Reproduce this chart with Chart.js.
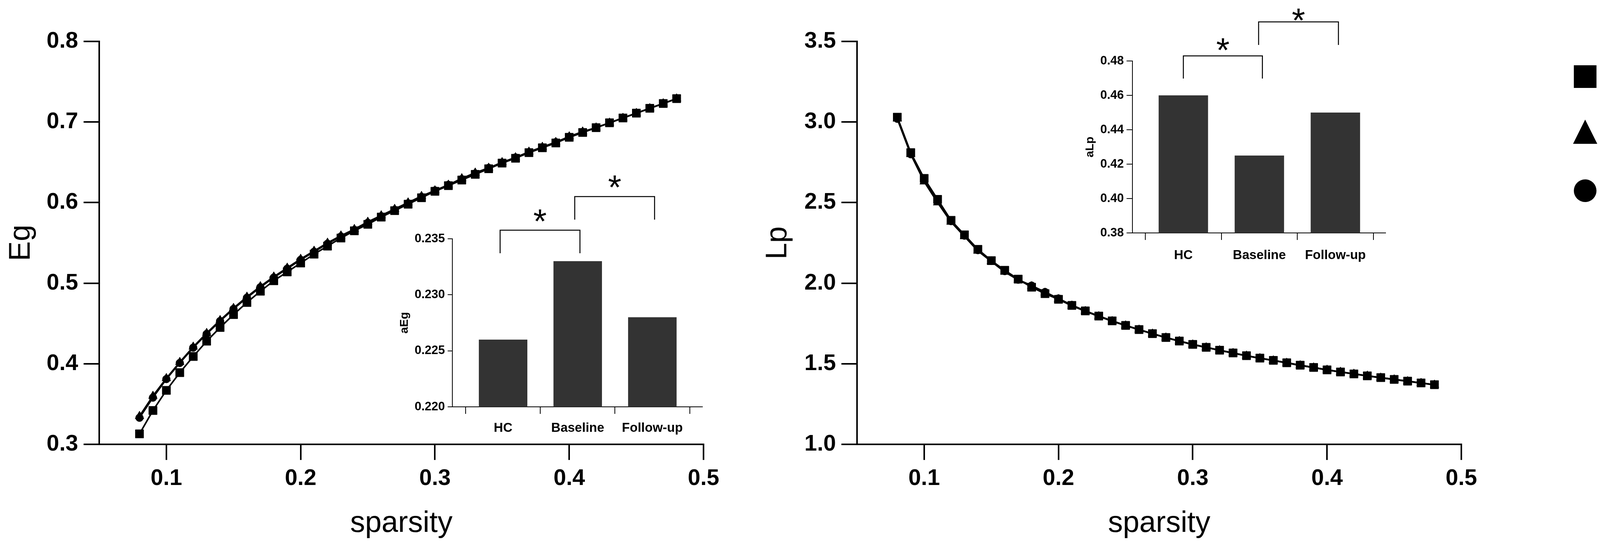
<!DOCTYPE html>
<html>
<head>
<meta charset="utf-8">
<script src="https://cdn.jsdelivr.net/npm/chart.js@4.4.0/dist/chart.umd.min.js"></script>
<style>
  html, body { margin: 0; padding: 0; background: #fff; }
  body { width: 4559px; height: 1392px; position: relative; overflow: hidden; font-family: "Liberation Sans", Arial, sans-serif; }
  canvas { position: absolute; }
  .leg-row { position: absolute; left: 4026px; height: 100px; display: flex; align-items: center; font-size: 86px; line-height: 1; color: #000; }
  .leg-mark { width: 64px; height: 64px; display: flex; align-items: center; justify-content: center; margin-right: 88px; }
  .sq { width: 58px; height: 58px; background: #000; }
  .tri { width: 0; height: 0; border-left: 31px solid transparent; border-right: 31px solid transparent; border-bottom: 62px solid #000; }
  .dot { width: 58px; height: 58px; border-radius: 50%; background: #000; }
</style>
</head>
<body>
<canvas id="egChart" width="1900" height="1392" style="left:0;top:0"></canvas>
<canvas id="lpChart" width="1900" height="1392" style="left:1940px;top:0"></canvas>
<canvas id="egBar" width="840" height="710" style="left:990px;top:420px"></canvas>
<canvas id="lpBar" width="840" height="690" style="left:2740px;top:0"></canvas>

<div class="leg-row" style="top:146px"><div class="leg-mark"><div class="sq"></div></div><span>HC</span></div>
<div class="leg-row" style="top:287px"><div class="leg-mark"><div class="tri"></div></div><span>Baseline</span></div>
<div class="leg-row" style="top:438px"><div class="leg-mark"><div class="dot"></div></div><span>Follow-up</span></div>

<script>
// values
const sparsity = [0.08, 0.09, 0.10, 0.11, 0.12, 0.13, 0.14, 0.15, 0.16, 0.17, 0.18, 0.19, 0.20, 0.21,
  0.22, 0.23, 0.24, 0.25, 0.26, 0.27, 0.28, 0.29, 0.30, 0.31, 0.32, 0.33, 0.34, 0.35, 0.36, 0.37,
  0.38, 0.39, 0.40, 0.41, 0.42, 0.43, 0.44, 0.45, 0.46, 0.47, 0.48];

const egHC = [0.313, 0.342, 0.367, 0.389, 0.409, 0.428, 0.445, 0.461, 0.476, 0.490, 0.503, 0.514, 0.525, 0.536,
  0.546, 0.556, 0.565, 0.573, 0.582, 0.590, 0.598, 0.606, 0.614, 0.621, 0.628, 0.635, 0.642, 0.649, 0.655, 0.662,
  0.668, 0.674, 0.681, 0.687, 0.693, 0.699, 0.705, 0.711, 0.717, 0.723, 0.729];
const egBaseline = [0.335, 0.360, 0.382, 0.402, 0.421, 0.438, 0.454, 0.469, 0.483, 0.496, 0.508, 0.519, 0.530, 0.540,
  0.550, 0.559, 0.567, 0.576, 0.584, 0.592, 0.600, 0.608, 0.615, 0.622, 0.630, 0.637, 0.643, 0.650, 0.656, 0.663,
  0.669, 0.675, 0.682, 0.688, 0.693, 0.699, 0.705, 0.711, 0.717, 0.723, 0.729];
const egFollowUp = [0.333, 0.358, 0.381, 0.401, 0.420, 0.437, 0.453, 0.468, 0.482, 0.495, 0.507, 0.518, 0.529, 0.539,
  0.549, 0.558, 0.566, 0.575, 0.583, 0.591, 0.599, 0.607, 0.615, 0.622, 0.629, 0.636, 0.643, 0.649, 0.656, 0.662,
  0.668, 0.675, 0.681, 0.687, 0.693, 0.699, 0.705, 0.711, 0.717, 0.723, 0.729];

const lpHC = [3.03, 2.81, 2.65, 2.52, 2.39, 2.30, 2.21, 2.14, 2.08, 2.025, 1.975, 1.935, 1.900, 1.862,
  1.828, 1.796, 1.766, 1.738, 1.712, 1.687, 1.663, 1.641, 1.620, 1.602, 1.584, 1.567, 1.550, 1.535, 1.521, 1.506,
  1.491, 1.477, 1.462, 1.449, 1.437, 1.425, 1.414, 1.403, 1.392, 1.381, 1.370];
const lpBaseline = [3.02, 2.80, 2.63, 2.50, 2.38, 2.29, 2.20, 2.135, 2.07, 2.02, 1.98, 1.94, 1.900, 1.860,
  1.826, 1.794, 1.764, 1.737, 1.711, 1.686, 1.662, 1.640, 1.619, 1.601, 1.583, 1.566, 1.549, 1.534, 1.520, 1.505,
  1.490, 1.476, 1.462, 1.449, 1.437, 1.425, 1.413, 1.402, 1.391, 1.380, 1.369];
const lpFollowUp = [3.02, 2.80, 2.64, 2.51, 2.385, 2.295, 2.205, 2.138, 2.075, 2.022, 1.985, 1.945, 1.905, 1.864,
  1.828, 1.796, 1.766, 1.738, 1.712, 1.687, 1.663, 1.641, 1.620, 1.602, 1.584, 1.567, 1.550, 1.535, 1.521, 1.506,
  1.491, 1.477, 1.462, 1.449, 1.437, 1.425, 1.414, 1.403, 1.392, 1.381, 1.370];

const groups = ['HC', 'Baseline', 'Follow-up'];
const aEg = [0.226, 0.233, 0.228];
const aLp = [0.460, 0.425, 0.450];

const sparsityTicks = [0.1, 0.2, 0.3, 0.4, 0.5];
const sparsityLabels = ['0.1', '0.2', '0.3', '0.4', '0.5'];
const egTicks = [0.3, 0.4, 0.5, 0.6, 0.7, 0.8];
const egLabels = ['0.3', '0.4', '0.5', '0.6', '0.7', '0.8'];
const lpTicks = [1.0, 1.5, 2.0, 2.5, 3.0, 3.5];
const lpLabels = ['1.0', '1.5', '2.0', '2.5', '3.0', '3.5'];
const aEgTicks = [0.220, 0.225, 0.230, 0.235];
const aEgLabels = ['0.220', '0.225', '0.230', '0.235'];
const aLpTicks = [0.38, 0.40, 0.42, 0.44, 0.46, 0.48];
const aLpLabels = ['0.38', '0.40', '0.42', '0.44', '0.46', '0.48'];

// significance brackets, in data units of each inset
const egBrackets = [
  { from: -0.04, to: 1.03, top: 0.23577, leg: 0.23371, star: 0.23706 },
  { from: 0.96, to: 2.03, top: 0.23877, leg: 0.23671, star: 0.2401 },
];
const lpBrackets = [
  { from: 0.0, to: 1.04, top: 0.48295, leg: 0.46977, star: 0.48955 },
  { from: 0.99, to: 2.04, top: 0.50273, leg: 0.48932, star: 0.50682 },
];

const mainTickFont = { family: '"Liberation Sans Narrow", "Liberation Sans", Arial, sans-serif', size: 58, weight: 'bold' };
const mainTitleFont = { family: '"Liberation Sans", Arial, sans-serif', size: 76, weight: 'normal' };
const insetTickFont = { family: '"Liberation Sans", Arial, sans-serif', size: 31, weight: 'bold' };
const insetCatFont = { family: '"Liberation Sans", Arial, sans-serif', size: 33, weight: 'bold' };
const insetTitleFont = { family: '"Liberation Sans", Arial, sans-serif', size: 30, weight: 'bold' };

function fixedTicks(values) {
  return scale => { scale.ticks = values.map(v => ({ value: v })); };
}

function series(label, ys, style, radius) {
  return {
    label: label,
    data: sparsity.map((x, i) => ({ x: x, y: ys[i] })),
    borderColor: '#000',
    borderWidth: 4,
    backgroundColor: '#000',
    pointStyle: style,
    pointRadius: radius,
    pointBackgroundColor: '#000',
    pointBorderColor: '#000',
    pointBorderWidth: 1,
    tension: 0,
  };
}

function lineConfig(datasets, yMin, yMax, yTicks, yLabels, yTitle, yTitlePad) {
  return {
    type: 'line',
    data: { datasets: datasets },
    options: {
      responsive: false,
      devicePixelRatio: 1,
      animation: false,
      layout: { padding: { top: 106, right: 99, left: 0, bottom: 0 } },
      plugins: { legend: { display: false }, tooltip: { enabled: false } },
      scales: {
        x: {
          type: 'linear', min: 0.05, max: 0.5,
          afterBuildTicks: fixedTicks(sparsityTicks),
          afterFit: s => { s.height = 255; },
          border: { display: true, color: '#000', width: 4 },
          grid: { display: true, drawOnChartArea: false, drawTicks: true, tickLength: 40, lineWidth: 4, tickWidth: 4, tickColor: '#000' },
          ticks: { color: '#000', font: mainTickFont, padding: 13, maxRotation: 0, autoSkip: false,
            callback: (v, i) => sparsityLabels[i] },
          title: { display: true, text: 'sparsity', color: '#000', font: mainTitleFont, padding: { top: 0, bottom: 6 } },
        },
        y: {
          type: 'linear', min: yMin, max: yMax,
          afterBuildTicks: fixedTicks(yTicks),
          afterFit: s => { s.width = 254; },
          border: { display: true, color: '#000', width: 4 },
          grid: { display: true, drawOnChartArea: false, drawTicks: true, tickLength: 40, lineWidth: 4, tickWidth: 4, tickColor: '#000' },
          ticks: { color: '#000', font: mainTickFont, padding: 14, autoSkip: false,
            callback: (v, i) => yLabels[i] },
          title: { display: true, text: yTitle, color: '#000', font: mainTitleFont, padding: { top: yTitlePad, bottom: 0 } },
        },
      },
    },
  };
}

const bracketPlugin = {
  id: 'brackets',
  afterDatasetsDraw(chart, args, opts) {
    const { ctx } = chart;
    const xs = chart.scales.x, ys = chart.scales.y;
    ctx.save();
    ctx.strokeStyle = '#000';
    ctx.lineWidth = 2.5;
    ctx.fillStyle = '#000';
    ctx.font = 'normal 88px "Liberation Sans", Arial, sans-serif';
    ctx.textAlign = 'center';
    ctx.textBaseline = 'alphabetic';
    const m = ctx.measureText('*');
    const mid = (m.actualBoundingBoxAscent - m.actualBoundingBoxDescent) / 2;
    (opts.items || []).forEach(b => {
      const x1 = xs.getPixelForValue(b.from), x2 = xs.getPixelForValue(b.to);
      const yt = ys.getPixelForValue(b.top), yl = ys.getPixelForValue(b.leg);
      ctx.beginPath();
      ctx.moveTo(x1, yl); ctx.lineTo(x1, yt); ctx.lineTo(x2, yt); ctx.lineTo(x2, yl);
      ctx.stroke();
      ctx.fillText('*', (x1 + x2) / 2, ys.getPixelForValue(b.star) + mid);
    });
    ctx.restore();
  },
};

function barConfig(values, xMin, xMax, yMin, yMax, yTicks, yLabels, yTitle, dims, brackets) {
  return {
    type: 'bar',
    data: {
      datasets: [{
        data: values.map((v, i) => ({ x: i, y: v })),
        backgroundColor: '#333333',
        borderWidth: 0,
        barPercentage: 0.65,
        categoryPercentage: 1.0,
      }],
    },
    plugins: [bracketPlugin],
    options: {
      responsive: false,
      devicePixelRatio: 1,
      animation: false,
      layout: { padding: { top: dims.top, right: dims.right, left: 0, bottom: 0 } },
      plugins: { legend: { display: false }, tooltip: { enabled: false }, brackets: { items: brackets } },
      scales: {
        x: {
          type: 'linear', min: xMin, max: xMax, offset: false,
          afterBuildTicks: fixedTicks([0, 1, 2]),
          afterFit: s => { s.height = dims.xHeight; },
          border: { display: true, color: '#000', width: 2 },
          grid: { display: true, drawOnChartArea: false, drawTicks: true, tickLength: 18, lineWidth: 2, tickWidth: 2, tickColor: '#000' },
          ticks: { color: '#000', font: insetCatFont, padding: dims.xPad, maxRotation: 0, autoSkip: false,
            callback: (v, i) => groups[i] },
        },
        y: {
          type: 'linear', min: yMin, max: yMax,
          afterBuildTicks: fixedTicks(yTicks),
          afterFit: s => { s.width = dims.yWidth; },
          border: { display: true, color: '#000', width: 2 },
          grid: { display: true, drawOnChartArea: false, drawTicks: true, tickLength: dims.tick, lineWidth: 2, tickWidth: 2, tickColor: '#000' },
          ticks: { color: '#000', font: insetTickFont, padding: 7, autoSkip: false,
            callback: (v, i) => yLabels[i] },
          title: { display: true, text: yTitle, color: '#000', font: insetTitleFont, padding: { top: dims.titlePad, bottom: 0 } },
        },
      },
    },
  };
}

new Chart(document.getElementById('egChart'), lineConfig([
  series('HC', egHC, 'rect', 15),
  series('Baseline', egBaseline, 'triangle', 13),
  series('Follow-up', egFollowUp, 'circle', 10),
], 0.3, 0.8, egTicks, egLabels, 'Eg', 9));

new Chart(document.getElementById('lpChart'), lineConfig([
  series('HC', lpHC, 'rect', 15),
  series('Baseline', lpBaseline, 'triangle', 13),
  series('Follow-up', lpFollowUp, 'circle', 10),
], 1.0, 3.5, lpTicks, lpLabels, 'Lp', 6));

new Chart(document.getElementById('egBar'), barConfig(aEg, -0.68, 2.67, 0.220, 0.235, aEgTicks, aEgLabels, 'aEg',
  { top: 191, right: 32, xHeight: 89, yWidth: 168, tick: 12, xPad: 17, titlePad: 28 }, egBrackets));

new Chart(document.getElementById('lpBar'), barConfig(aLp, -0.67, 2.66, 0.38, 0.48, aLpTicks, aLpLabels, 'aLp',
  { top: 156, right: 33, xHeight: 94, yWidth: 159, tick: 15, xPad: 20, titlePad: 33 }, lpBrackets));
</script>
</body>
</html>
